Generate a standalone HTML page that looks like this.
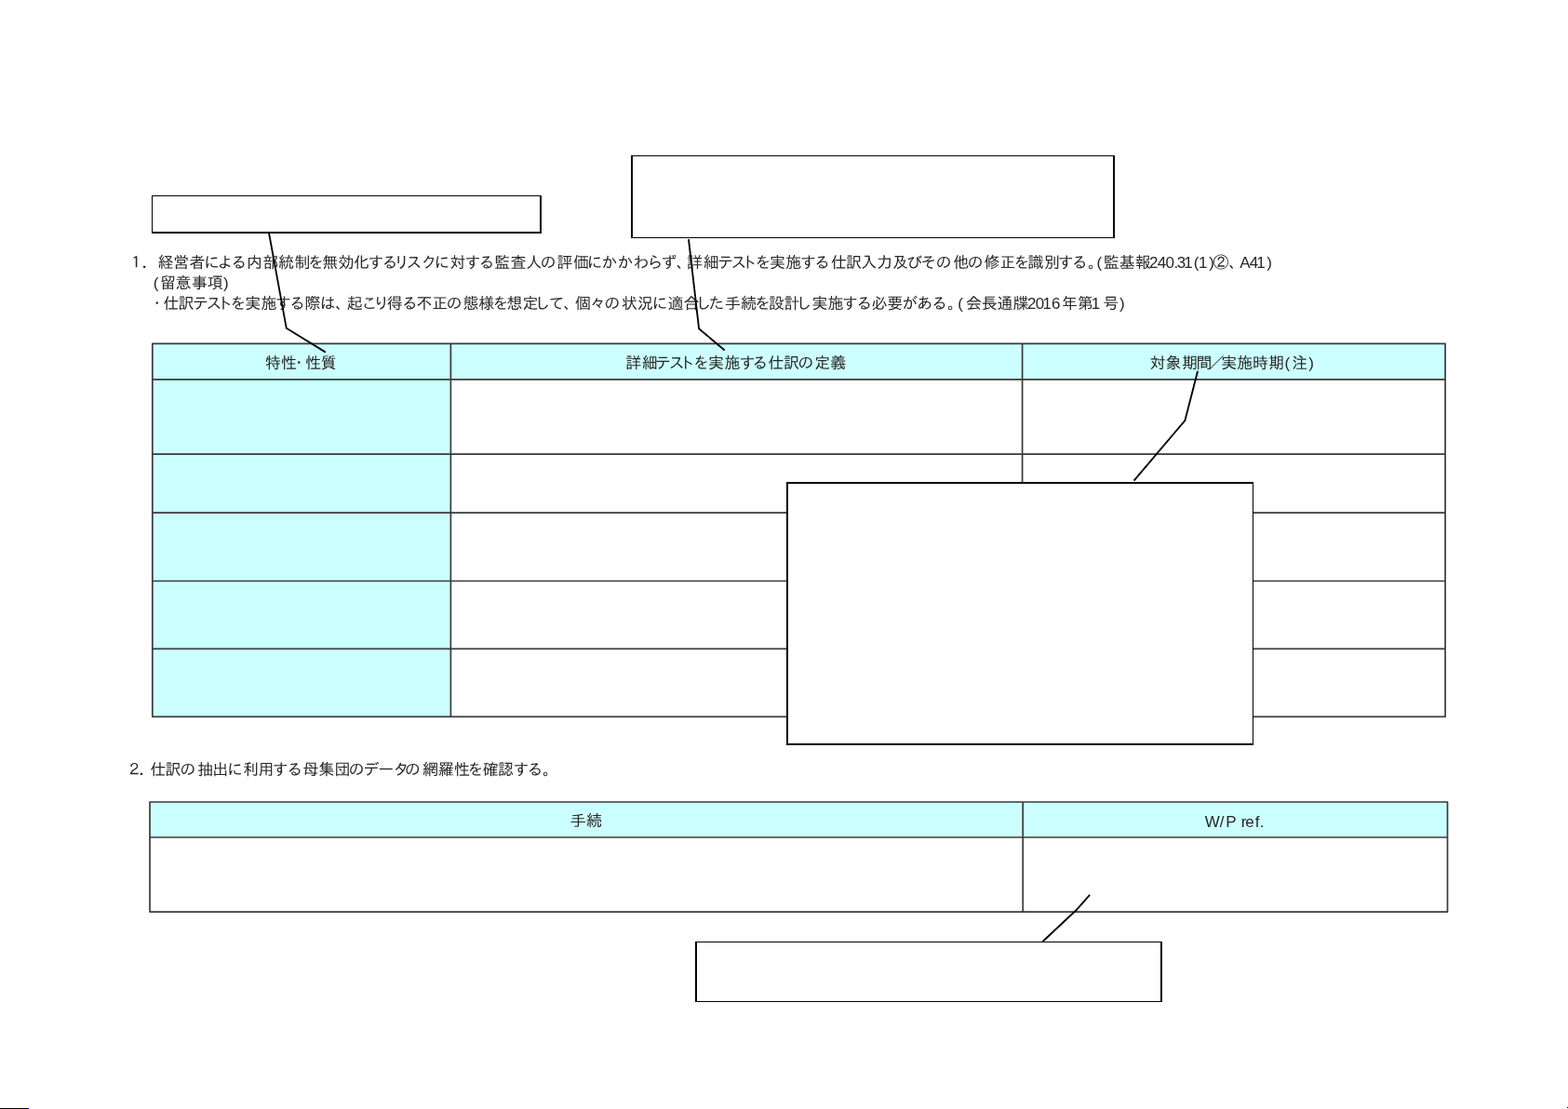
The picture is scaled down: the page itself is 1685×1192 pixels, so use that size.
<!DOCTYPE html>
<html lang="ja">
<head>
<meta charset="utf-8">
<title>仕訳テスト</title>
<style>
html,body{margin:0;padding:0;background:#fff}
body{width:1685px;height:1192px;overflow:hidden;position:relative}
svg{position:absolute;left:0;top:0;display:block}
text{font-family:"Liberation Sans","IPAGothic","Noto Sans CJK JP",sans-serif;font-size:17px;fill:#262626;white-space:pre}
.g{fill:none;stroke:#3a3a3a;stroke-width:1.7;stroke-linejoin:round;stroke-linecap:round}
.c{fill:none;stroke:#000;stroke-width:1.85;stroke-linejoin:miter;stroke-linecap:butt}
.b{fill:#000;shape-rendering:crispEdges}
.w{fill:#fff;shape-rendering:crispEdges}
</style>
</head>
<body>
<svg width="1685" height="1192" viewBox="0 0 1685 1192">
<g fill="#ccffff">
<rect x="163.8" y="369.3" width="1389.3" height="38.6"/>
<rect x="163.8" y="407.9" width="320.6" height="362.5"/>
<rect x="161.0" y="862.0" width="1394.5" height="38.0"/>
</g>
<path class="g" d="M163.8 369.3H1553.1V770.4H163.8ZM163.8 407.9H1553.1M163.8 488.1H1553.1M163.8 551.2H1553.1M163.8 624.5H1553.1M163.8 697.3H1553.1M484.4 369.3V770.4M1098.6 369.3V770.4"/>
<path class="g" d="M161.0 862.0H1555.5V980.1H161.0ZM161.0 900.0H1555.5M1099.2 862.0V980.1"/>
<defs><filter id="soft" filterUnits="userSpaceOnUse" x="0" y="0" width="1685" height="1192" color-interpolation-filters="sRGB"><feGaussianBlur stdDeviation="0.35"/></filter></defs>
<g filter="url(#soft)">
<text x="137.7 152.5 169.5 186.3 203.6 218.9 233.4 248.2 264.9 282.6 299.0 316.6 331.0 346.2 363.4 380.1 395.4 410.5 423.1 436.5 452.4 466.6 483.4 499.5 514.5 531.2 548.4 565.2 580.5 598.6 615.9 630.6 646.3 663.2 680.4 695.3 710.6 726.8 738.1 755.7 771.2 785.5 796.7 811.4 827.1 844.3 860.0 875.1 892.9 908.9 925.2 941.9 959.1 974.3 989.2 1005.6 1024.5 1039.5 1057.6 1074.5 1089.6 1104.6 1122.1 1136.8 1151.8 1169.1 1178.6 1185.8 1202.7 1219.7 1235.0 1243.8 1252.6 1261.4 1264.7 1272.2 1282.7 1287.9 1299.3 1303.6 1320.5 1332.2 1342.7 1350.2 1361.3" y="287.7">１．経営者による内部統制を無効化するリスクに対する監査人の評価にかかわらず、詳細テストを実施する仕訳入力及びその他の修正を識別する。(監基報240.31(1)②、A41)</text>
<text x="164.8 172.1 188.5 205.9 222.8 239.9" y="310.0">(留意事項)</text>
<text x="160.2 175.5 191.5 206.9 221.4 233.2 247.4 263.2 280.4 296.1 311.1 327.6 343.7 360.2 372.8 388.6 401.3 415.7 431.8 447.6 464.2 479.4 497.4 514.2 529.4 544.6 561.5 574.3 589.7 605.5 618.0 633.9 649.3 668.0 685.0 700.6 717.6 734.6 747.2 761.6 779.1 796.1 810.9 826.0 842.5 855.2 872.5 889.4 905.1 920.2 936.4 953.2 969.2 985.2 1000.9 1017.9 1029.2 1038.1 1054.8 1071.6 1088.5 1104.1 1112.8 1120.5 1129.9 1140.9 1157.8 1172.8 1185.2 1203.0" y="331.8">・仕訳テストを実施する際は、起こり得る不正の態様を想定して、個々の状況に適合した手続を設計し実施する必要がある。(会長通牒2016年第1号)</text>
<text x="284.9 302.1 312.7 328.2 344.8" y="396.0">特性・性質</text>
<text x="672.2 689.8 704.1 718.7 730.0 745.0 760.9 778.4 794.4 808.3 825.5 842.0 857.3 875.3 892.2" y="396.0">詳細テストを実施する仕訳の定義</text>
<text x="1235.8 1252.5 1270.3 1285.6 1298.7 1312.3 1329.3 1345.9 1363.2 1380.5 1388.2 1406.3" y="396.0">対象期間／実施時期(注)</text>
<text x="135.7 149.3 161.5 177.5 193.3 212.3 228.3 243.9 261.2 277.5 292.7 308.2 325.5 342.4 359.4 374.5 390.5 406.2 422.8 434.7 453.9 470.9 488.1 502.5 518.7 535.1 551.5 566.5 583.0" y="833.2">２．仕訳の抽出に利用する母集団のデータの網羅性を確認する。</text>
<text x="612.7 630.0" y="888.3">手続</text>
<text x="1294.8 1310.7 1317.3 1328.6 1333.8 1338.2 1348.7 1353.8" y="889.0">W/P ref.</text>
</g>
<polyline class="c" points="289.1,250.8 307.8,352.8 349.9,378.6"/>
<polyline class="c" points="740,257.1 751.1,353.3 778.7,376.5"/>
<polyline class="c" points="1287.1,398.8 1273.4,452 1218.6,516.6"/>
<polyline class="c" points="1171.1,961.9 1156.5,978.3 1120.5,1012"/>
<rect class="b" x="163" y="210" width="419" height="41"/>
<rect class="w" x="164" y="211" width="416" height="38"/>
<rect class="b" x="678" y="167" width="520" height="89"/>
<rect class="w" x="680" y="168" width="516" height="87"/>
<rect class="b" x="845" y="518" width="502" height="283"/>
<rect class="w" x="847" y="520" width="499" height="279"/>
<rect class="b" x="747" y="1012" width="502" height="65"/>
<rect class="w" x="749" y="1013" width="498" height="63"/>
<rect class="b" x="0" y="1191" width="30" height="1"/>
<rect x="30" y="1191" width="1" height="1" fill="#00f" shape-rendering="crispEdges"/>
<rect class="b" x="1684" y="1190" width="1" height="1"/>
</svg>
</body>
</html>
